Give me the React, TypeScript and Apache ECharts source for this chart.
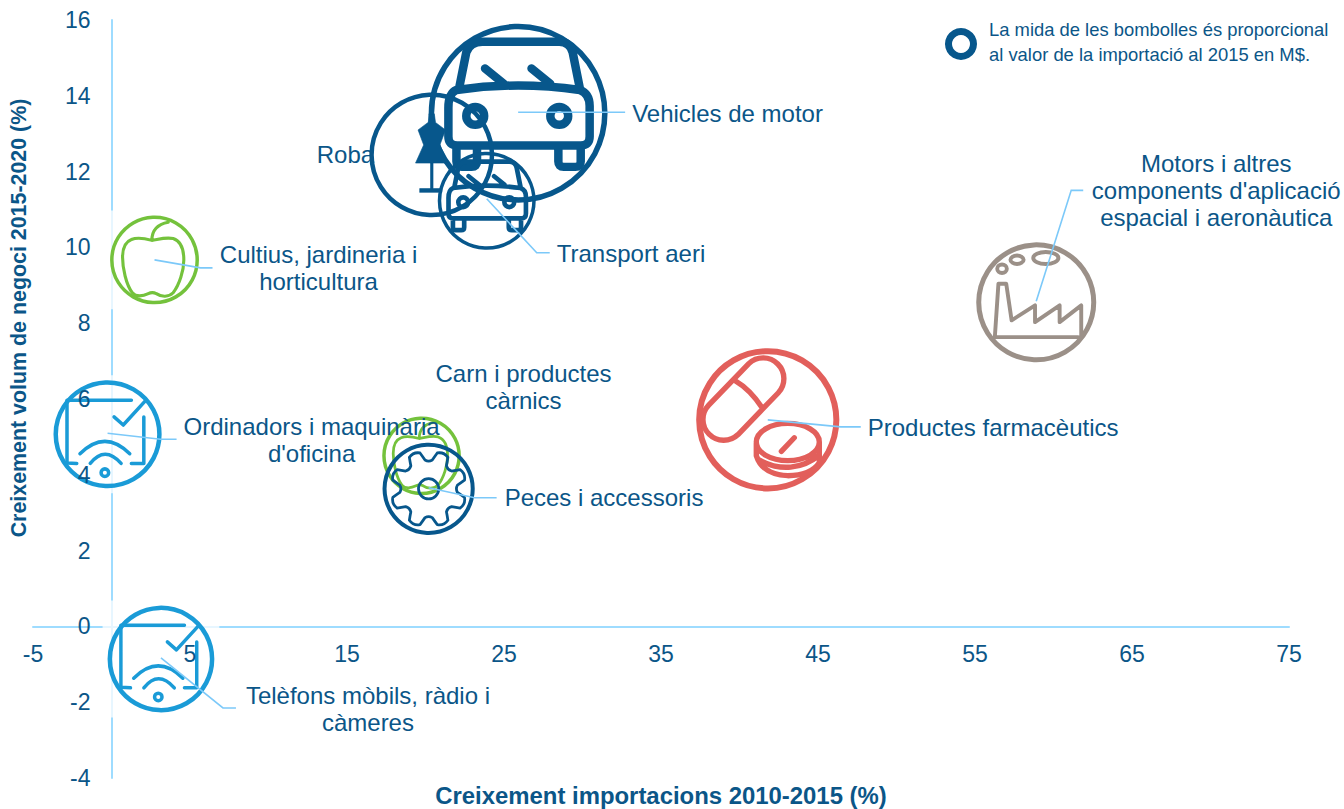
import React, { useEffect, useRef } from "react";
import * as echarts from "echarts";

// ---- data ----
const names = ["Vehicles de motor", "Roba", "Transport aeri", "Cultius, jardineria i horticultura", "Carn i productes càrnics", "Peces i accessoris", "Productes farmacèutics", "Motors i altres components d'aplicació espacial i aeronàutica", "Ordinadors i maquinària d'oficina", "Telèfons mòbils, ràdio i càmeres"];
const importGrowth = [25.9, 20.4, 23.9, 2.74, 19.75, 20.2, 41.8, 58.9, -0.25, 3.15];
const volumeGrowth = [13.54, 12.44, 11.23, 9.67, 4.5, 3.63, 5.45, 8.55, 5.07, -0.86];
const importValue = [320, 156, 96, 79, 62, 85, 205, 144, 117, 114];
const xTickLabels = [-5, 5, 15, 25, 35, 45, 55, 65, 75];
const yTickLabels = [-4, -2, 0, 2, 4, 6, 8, 10, 12, 14, 16];

// ---- styles & layout (separate from data) ----
const NAVY = "#07578c";
const GREEN = "#74c23c";
const RED = "#e25f5b";
const TAUPE = "#9b9088";
const SKY = "#1a9bd7";
const TEXT = "#0b5688";
const LEADER = "#7cc9f9";
const AXIS = "#9edcff";
const FONT = '"Liberation Sans", Arial, sans-serif';

const icons = ["iconCar", "iconDress", "iconCar", "iconApple", "iconApple", "iconGear", "iconPills", "iconFactory", "iconDevice", "iconDevice"];
const colors = [NAVY, NAVY, NAVY, GREEN, GREEN, NAVY, RED, TAUPE, SKY, SKY];
const ringWidth = [5.5, 4.5, 3.5, 3.5, 3.5, 4, 6, 5, 4.5, 4.5];
// label text lines, anchor offset from the bubble centre (px), alignment
const labelText = ["Vehicles de motor", "Roba", "Transport aeri", "Cultius, jardineria i\nhorticultura", "Carn i productes\ncàrnics", "Peces i accessoris", "Productes farmacèutics", "Motors i altres\ncomponents d'aplicació\nespacial i aeronàutica", "Ordinadors i maquinària\nd'oficina", "Telèfons mòbils, ràdio i\ncàmeres"];
const labelOffset = [[114, 0], [-115, 0], [70, 53], [164, 8], [102, -69], [76, 9], [100, 8], [180, -112], [204, 6], [207, 50]];
const labelAlign = ["left", "left", "left", "center", "center", "left", "left", "center", "center", "center"];
const leaderOffsets: number[][][] = [
  [[0, -1], [107, -1]],
  [],
  [[0, -2], [50, 52], [63, 52]],
  [[0, 0], [46, 8], [58, 8]],
  [],
  [[0, -1], [46, 9], [68, 9]],
  [[0, 0], [73, 7], [93, 7]],
  [[0, -1], [35, -112], [47, -112]],
  [[0, -1], [53, 5], [69, 5]],
  [[0, -1], [62, 49], [75, 49]],
];

function gearPath() {
  const n = 8;
  let d = "";
  const pt = (r: number, a: number) => `${(r * Math.cos(a)).toFixed(1)} ${(r * Math.sin(a)).toFixed(1)}`;
  for (let i = 0; i < n; i++) {
    const a = (i * 2 * Math.PI) / n - Math.PI / 2 + Math.PI / 8;
    const st = (2 * Math.PI) / n;
    d += (i === 0 ? "M" : "L") + pt(63, a - st * 0.34);
    d += " Q" + pt(72, a - st * 0.26) + " " + pt(80, a - st * 0.2);
    d += " Q" + pt(87, a) + " " + pt(80, a + st * 0.2);
    d += " Q" + pt(72, a + st * 0.26) + " " + pt(63, a + st * 0.34);
    d += " Q" + pt(58, a + st * 0.5) + " " + pt(63, a + st * 0.66) + " ";
  }
  d += "Z M22 0 A22 22 0 1 1 -22 0 A22 22 0 1 1 22 0 Z";
  return d;
}

const ellipse = (cx: number, cy: number, rx: number, ry: number) =>
  `M${cx + rx} ${cy} A${rx} ${ry} 0 1 1 ${cx - rx} ${cy} A${rx} ${ry} 0 1 1 ${cx + rx} ${cy} Z`;

const iconPaths: Record<string, string> = {
  iconCar:
    "M-66 -28 L-58 -68 Q-54 -80 -40 -80 L46 -80 Q58 -80 61 -68 L69 -28 " +
    "M-37 -50 L-16 -33 M15 -50 L36 -33 " +
    "M-69 -26 Q0 -36 69 -26 Q80 -22 80 -8 L80 26 Q80 36 70 36 L-68 36 Q-78 36 -78 26 L-78 -6 Q-78 -22 -69 -26 Z " +
    ellipse(-48, 3, 10, 10) + " " + ellipse(46, 3, 10, 10) + " " +
    "M-69 36 L-69 54 Q-69 60 -63 60 L-52 60 Q-46 60 -46 54 L-46 36 " +
    "M45 36 L45 54 Q45 60 51 60 L64 60 Q70 60 70 54 L70 36",
  iconDress:
    "M-4 -66 L4 -66 L6 -52 L22 -40 L13 -16 L26 13 L-26 13 L-13 -16 L-22 -40 L-6 -52 Z " +
    "M-2 13 L-2 54 L2 54 L2 13 Z M-19 54 L16 54 L16 60 L-19 60 Z",
  iconApple:
    "M-6 -44 C-20 -48 -38 -52 -52 -46 C-68 -40 -72 -24 -72 -6 C-72 18 -64 56 -50 74 C-42 84 -26 82 -14 76 C-8 73 -2 73 4 76 C16 84 32 84 42 74 C56 56 66 24 66 0 C66 -24 60 -42 42 -48 C26 -52 8 -46 -6 -44 Z M-6 -44 C-6 -64 4 -80 31 -85",
  iconGear: gearPath(),
  iconPills:
    "M-41.5 20.5 L14.5 -37.5 A29 29 0 0 0 -26.5 -78.5 L-82.5 -20.5 A29 29 0 0 0 -41.5 20.5 Z M-46 -55 Q-24 -42 -8 -17 " +
    ellipse(28, 31, 44, 26) + " M19 44 L37 25 " +
    "M-16 33 L-16 50 Q-8 76 28 78 Q60 78 72 60 L72 31 M-12 56 Q10 68 32 66 Q54 64 71 50",
  iconFactory:
    "M-69 58 L70 58 M-69 58 L-63 -31 L-50 -31 L-41 30 L-2 5 L-2 33 L39 5 L39 33 L75 5 L75 58 " +
    ellipse(-57, -56, 8, 7) + " " + ellipse(-32, -71, 11, 7) + " " + ellipse(16, -74, 21, 10),
  iconDevice:
    "M44 -63 L-75 -63 L-75 53 L-57 54 M44 54 L67 54 L67 -32 M12 -32 L29 -17 L71 -63 " +
    "M-51 36 Q-5 -10 41 36 M-32 54 Q-5 20 25 54 " + ellipse(-5, 71, 7, 7),
};
Object.keys(iconPaths).forEach((k) => {
  echarts.graphic.registerShape(k, echarts.graphic.extendPath(iconPaths[k], {}) as any);
});

const iconStroke: Record<string, number> = { iconCar: 9.5, iconDress: 1, iconApple: 7, iconGear: 6, iconPills: 7.5, iconFactory: 6.5, iconDevice: 6.5 };

const radiusOf = (v: number) => 5 * Math.sqrt(v);
const rows = names.map((n, i) => [importGrowth[i], volumeGrowth[i], importValue[i], i]);

export default function App() {
  const ref = useRef<HTMLDivElement>(null);
  useEffect(() => {
    if (!ref.current) return;
    const chart = echarts.init(ref.current, undefined, { renderer: "svg" });
    chart.setOption({
      animation: false,
      textStyle: { fontFamily: FONT },
      grid: { left: 33, right: 55, top: 20, bottom: 31, containLabel: false, outerBoundsMode: "none" },
      xAxis: [
        {
          type: "value", position: "top", min: -5, max: 75, splitLine: { show: false }, axisTick: { show: false }, axisLabel: { show: false },
          axisLine: { show: true, onZero: true, lineStyle: { color: AXIS, width: 2 } }, z: 0,
        },
        {
          type: "value", position: "bottom", offset: -152, min: -5, max: 75, splitLine: { show: false }, axisTick: { show: false }, axisLine: { show: false, onZero: false }, z: 6,
          axisLabel: { show: true, customValues: xTickLabels, color: TEXT, fontSize: 23, fontFamily: FONT, margin: 16 },
          name: "Creixement importacions 2010-2015 (%)", nameLocation: "middle", nameGap: 157.5,
          nameTextStyle: { color: TEXT, fontSize: 23.9, fontWeight: "bold", fontFamily: FONT },
        },
      ],
      yAxis: [
        {
          type: "value", position: "right", min: -4, max: 16, interval: 2, splitLine: { show: false }, axisTick: { show: false }, axisLabel: { show: false },
          axisLine: { show: true, onZero: true, lineStyle: { color: AXIS, width: 2 } }, z: 0,
        },
        {
          type: "value", position: "left", offset: -78.5, min: -4, max: 16, interval: 2, splitLine: { show: false }, axisTick: { show: false }, axisLine: { show: false, onZero: false }, z: 6,
          axisLabel: { show: true, customValues: yTickLabels, color: TEXT, fontSize: 23, fontFamily: FONT, margin: 21 },
          name: "Creixement volum de negoci 2015-2020 (%)", nameLocation: "middle", nameGap: 82, nameRotate: 90,
          nameTextStyle: { color: TEXT, fontSize: 21.4, fontWeight: "bold", fontFamily: FONT, padding: [0, 0, 0, 162] },
        },
      ],
      graphic: [
        { type: "ring", shape: { cx: 961, cy: 44, r: 16, r0: 9 }, style: { fill: NAVY } },
        {
          type: "text", x: 989, y: 41.5,
          style: { text: "La mida de les bombolles és proporcional\nal valor de la importació al 2015 en M$.", fill: TEXT, font: `18.4px ${FONT}`, lineHeight: 25, align: "left", verticalAlign: "middle" },
        },
      ],
      series: [
        {
          type: "custom", name: "veil", z: 1, xAxisIndex: 0, yAxisIndex: 0, clip: false, silent: true,
          encode: { x: 0, y: 1 }, data: rows,
          renderItem: (_p: any, api: any) => {
            const c = api.coord([api.value(0), api.value(1)]);
            const r = radiusOf(api.value(2)) + 5;
            return { type: "rect", shape: { x: c[0] - r, y: c[1] - r, width: 2 * r, height: 2 * r }, style: { fill: "rgba(255,255,255,0.75)" } };
          },
        },
        {
          type: "custom", name: "bubbles", z: 2, xAxisIndex: 0, yAxisIndex: 0, clip: false, silent: true,
          encode: { x: 0, y: 1 }, data: rows,
          renderItem: (_p: any, api: any) => {
            const c = api.coord([api.value(0), api.value(1)]);
            const i = api.value(3);
            const r = radiusOf(api.value(2));
            const col = colors[i];
            const w = ringWidth[i];
            const icon = icons[i];
            const s = r / 100;
            return {
              type: "group", x: c[0], y: c[1],
              children: [
                { type: "circle", shape: { cx: 0, cy: 0, r: r - w / 2 }, style: { fill: "none", stroke: col, lineWidth: w } },
                {
                  type: icon, scaleX: s, scaleY: s,
                  style: { fill: icon === "iconDress" ? col : "none", stroke: col, lineWidth: iconStroke[icon], lineCap: "round", lineJoin: "round" },
                },
              ],
            };
          },
        },
        {
          type: "custom", name: "annotations", z: 3, xAxisIndex: 0, yAxisIndex: 0, clip: false, silent: true,
          encode: { x: 0, y: 1 }, data: rows,
          renderItem: (_p: any, api: any) => {
            const c = api.coord([api.value(0), api.value(1)]);
            const i = api.value(3);
            const children: any[] = [];
            if (leaderOffsets[i].length) {
              children.push({ type: "polyline", shape: { points: leaderOffsets[i] }, style: { fill: "none", stroke: LEADER, lineWidth: 1.6 } });
            }
            children.push({
              type: "text", x: labelOffset[i][0], y: labelOffset[i][1],
              style: { text: labelText[i], fill: TEXT, font: `24px ${FONT}`, lineHeight: 27, align: labelAlign[i], verticalAlign: "middle" },
            });
            return { type: "group", x: c[0], y: c[1], children };
          },
        },
      ],
    });
    return () => chart.dispose();
  }, []);
  return <div ref={ref} style={{ position: "fixed", left: 0, top: 0, width: 1344, height: 809, background: "#fff" }} />;
}
